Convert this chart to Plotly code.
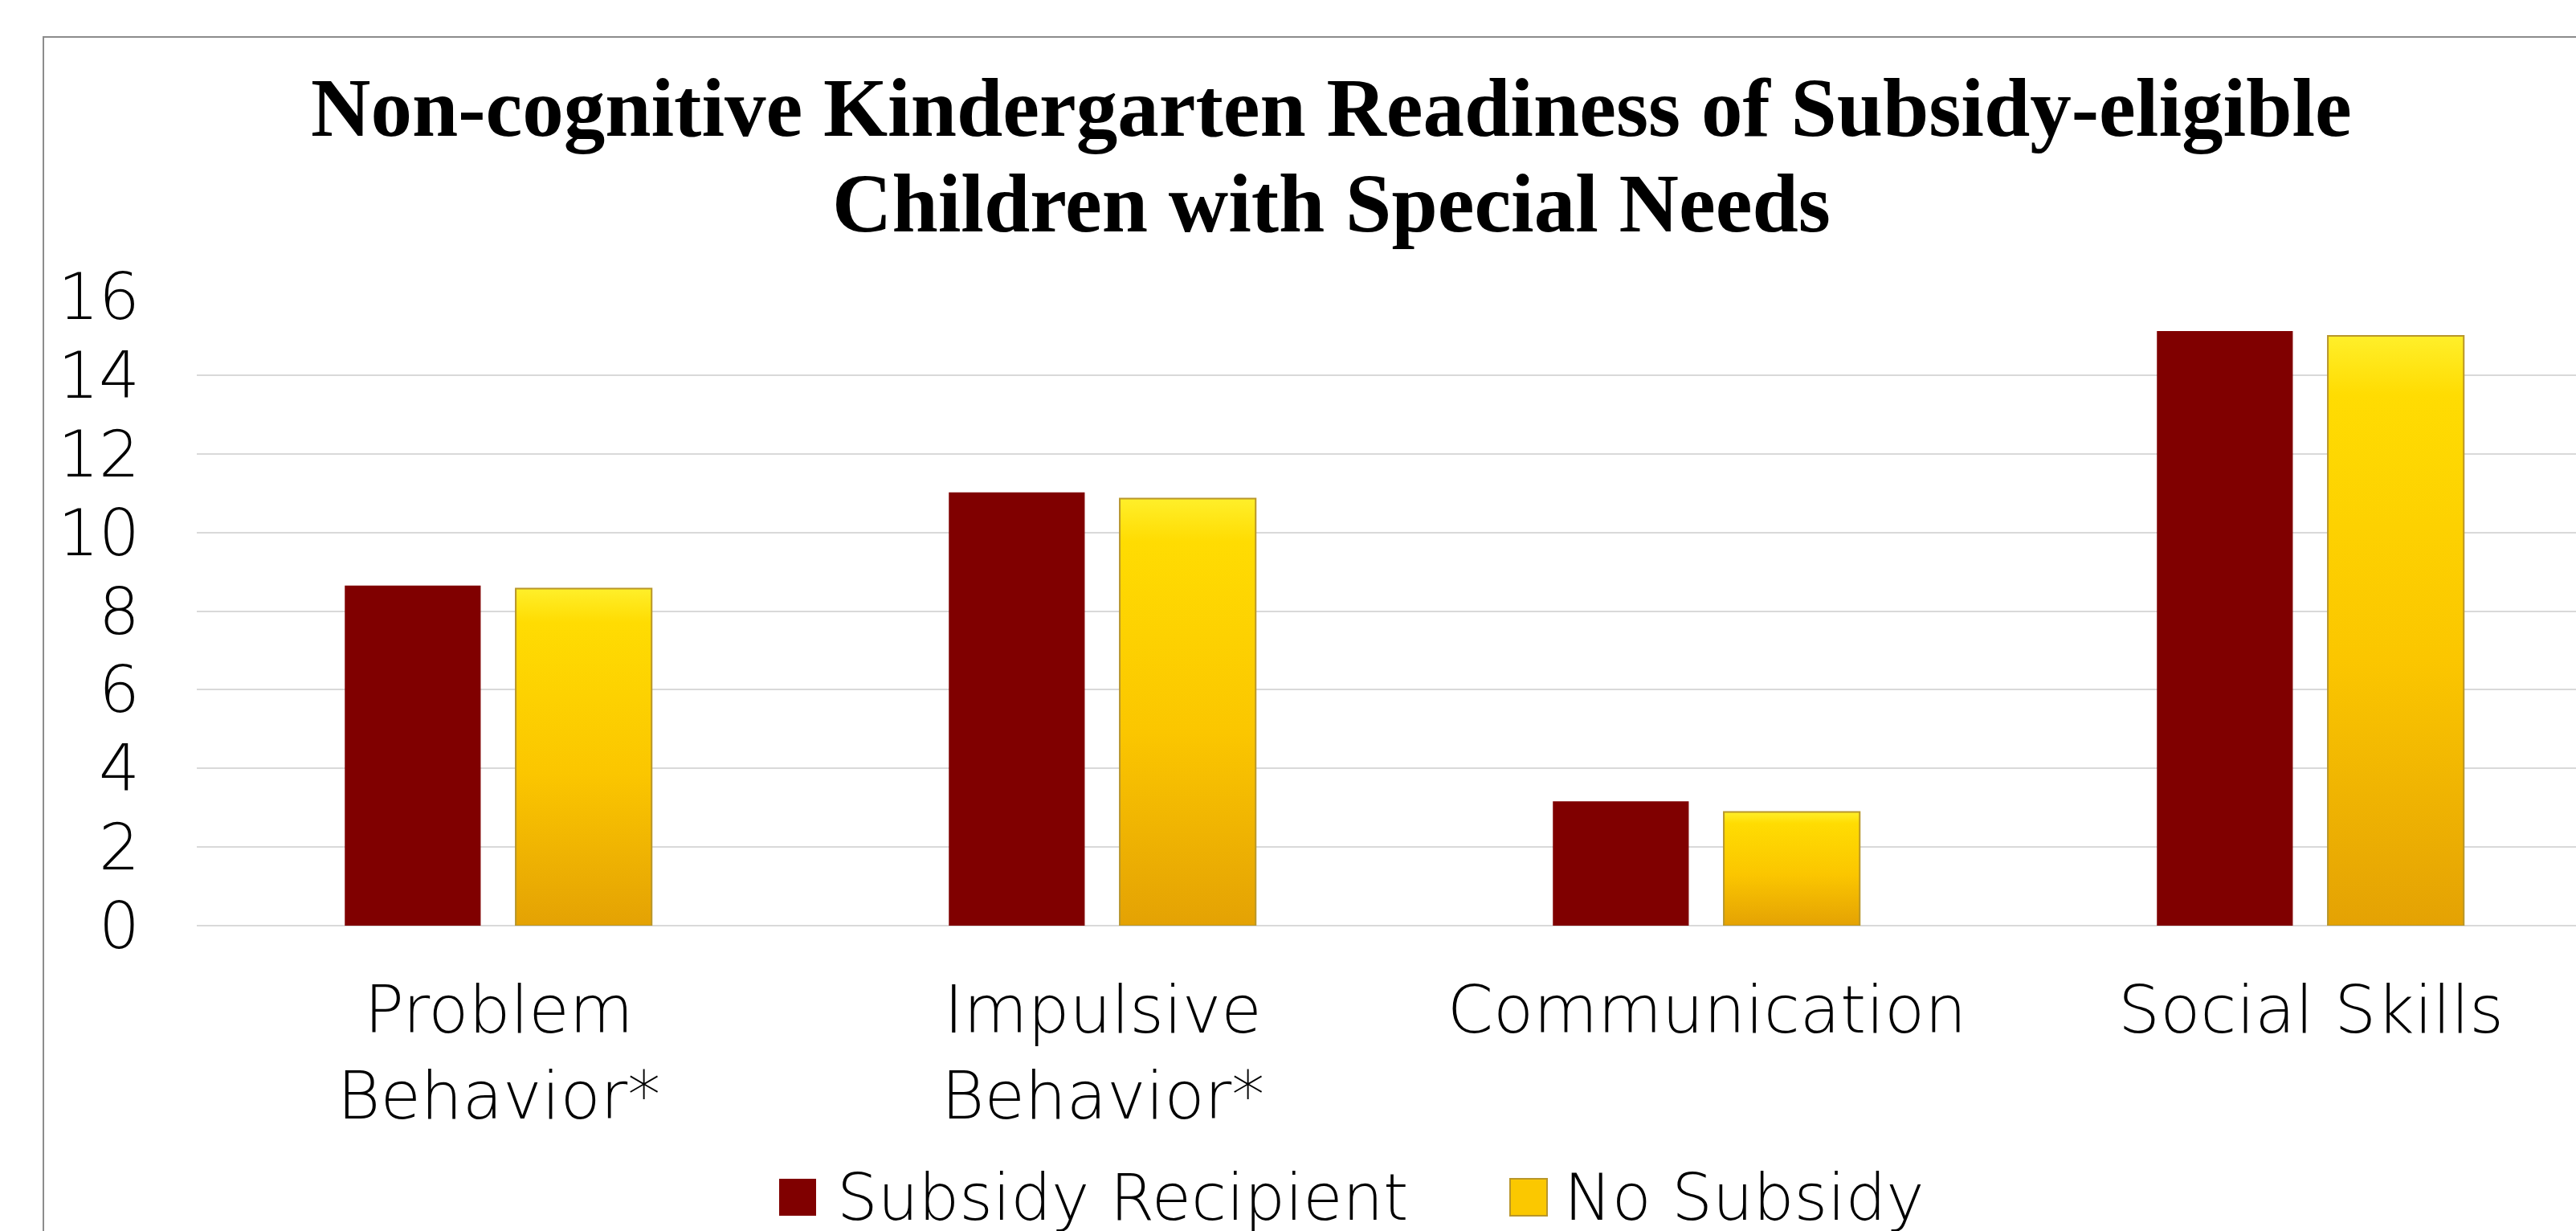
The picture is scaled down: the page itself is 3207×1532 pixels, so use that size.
import plotly.graph_objects as go

# ---- data ----
categories = ["Problem<br>Behavior*", "Impulsive<br>Behavior*", "Communication", "Social Skills"]
subsidy_recipient = [8.65, 11.02, 3.16, 15.12]
no_subsidy = [8.57, 10.86, 2.89, 15.0]
y_ticks = [0, 2, 4, 6, 8, 10, 12, 14, 16]

series_names = ["Subsidy Recipient", "No Subsidy"]

# ---- layout constants (pixels) ----
W, H = 3207, 1532
PLOT_L, PLOT_TOP, PLOT_BOTTOM = 245, 369, 1152
PLOT_W = W - PLOT_L
PLOT_H = PLOT_BOTTOM - PLOT_TOP
CAT_PX = 752  # pixels per category band

BAR_W = 0.225
RED_OFF = -0.255
YEL_OFF = 0.028

RED = "#800000"
GOLD_EDGE = "#B8962A"
GOLD_SCALE = [[0.0, "#E4A204"], [0.45, "#FBC600"], [0.9, "#FFDC02"], [1.0, "#FFEF2A"]]

AXIS_FONT = dict(family="'DejaVu Sans', 'Open Sans', sans-serif", size=82, color="#000000", weight=200)
LEGEND_FONT = dict(family="'DejaVu Sans', 'Open Sans', sans-serif", size=80, color="#000000", weight=200)
TITLE_FONT = dict(family="'Liberation Serif', 'Times New Roman', serif", size=103, color="#000000", weight="bold")


def px_x(p):
    return (p - PLOT_L) / PLOT_W


def px_y(p):
    return (PLOT_BOTTOM - p) / PLOT_H


x_pos = list(range(len(categories)))

fig = go.Figure()

fig.add_trace(go.Bar(
    x=x_pos, y=subsidy_recipient, name=series_names[0],
    width=BAR_W, offset=RED_OFF,
    marker=dict(color=RED, line=dict(width=0)),
    showlegend=False,
))

# gold bars drawn as filled outlines so each can carry a vertical gradient
for i, v in zip(x_pos, no_subsidy):
    left = i + YEL_OFF
    right = left + BAR_W
    fig.add_trace(go.Scatter(
        x=[left, right, right, left, left],
        y=[0, 0, v, v, 0],
        mode="lines",
        fill="toself",
        fillgradient=dict(type="vertical", colorscale=GOLD_SCALE),
        line=dict(color=GOLD_EDGE, width=2),
        name=series_names[1],
        showlegend=False,
        hoverinfo="skip",
    ))

x_max = -0.5 + PLOT_W / CAT_PX

fig.update_layout(
    width=W, height=H,
    margin=dict(l=PLOT_L, r=0, t=PLOT_TOP, b=H - PLOT_BOTTOM, pad=0),
    paper_bgcolor="white", plot_bgcolor="white",
    showlegend=False,
    xaxis=dict(
        range=[-0.5, x_max], tickvals=x_pos, ticktext=categories,
        showgrid=False, zeroline=False, showline=False, ticks="",
        tickfont=AXIS_FONT, ticklabelstandoff=50,
    ),
    yaxis=dict(
        range=[0, 16], tickvals=y_ticks,
        showgrid=True, gridcolor="#D9D9D9", gridwidth=2,
        zeroline=True, zerolinecolor="#D9D9D9", zerolinewidth=2,
        showline=False, ticks="",
        tickfont=LEGEND_FONT, ticklabelstandoff=70,
    ),
)

# chart frame
fig.add_shape(
    type="rect", xref="paper", yref="paper",
    x0=px_x(54), x1=1.3, y0=-1.0, y1=px_y(46),
    line=dict(color="#8C8C8C", width=2), fillcolor="rgba(0,0,0,0)", layer="below",
)

# title, two lines
title_center = px_x(1657)
for text, cy in [("Non-cognitive Kindergarten Readiness of Subsidy-eligible", 134),
                 ("Children with Special Needs", 253)]:
    fig.add_annotation(
        text=text, xref="paper", yref="paper", x=title_center, y=px_y(cy),
        xanchor="center", yanchor="middle", showarrow=False, font=TITLE_FONT,
    )

# legend swatches and labels
fig.add_shape(type="rect", xref="paper", yref="paper",
              x0=px_x(970), x1=px_x(1016), y0=px_y(1513), y1=px_y(1467),
              fillcolor=RED, line=dict(width=0))
fig.add_shape(type="rect", xref="paper", yref="paper",
              x0=px_x(1880), x1=px_x(1926), y0=px_y(1513), y1=px_y(1467),
              fillcolor="#FBC800", line=dict(color=GOLD_EDGE, width=2))
for text, lx in [(series_names[0], 1040), (series_names[1], 1945)]:
    fig.add_annotation(
        text=text, xref="paper", yref="paper", x=px_x(lx), y=px_y(1490),
        xanchor="left", yanchor="middle", showarrow=False, font=LEGEND_FONT,
    )

fig.write_html("out.html")
